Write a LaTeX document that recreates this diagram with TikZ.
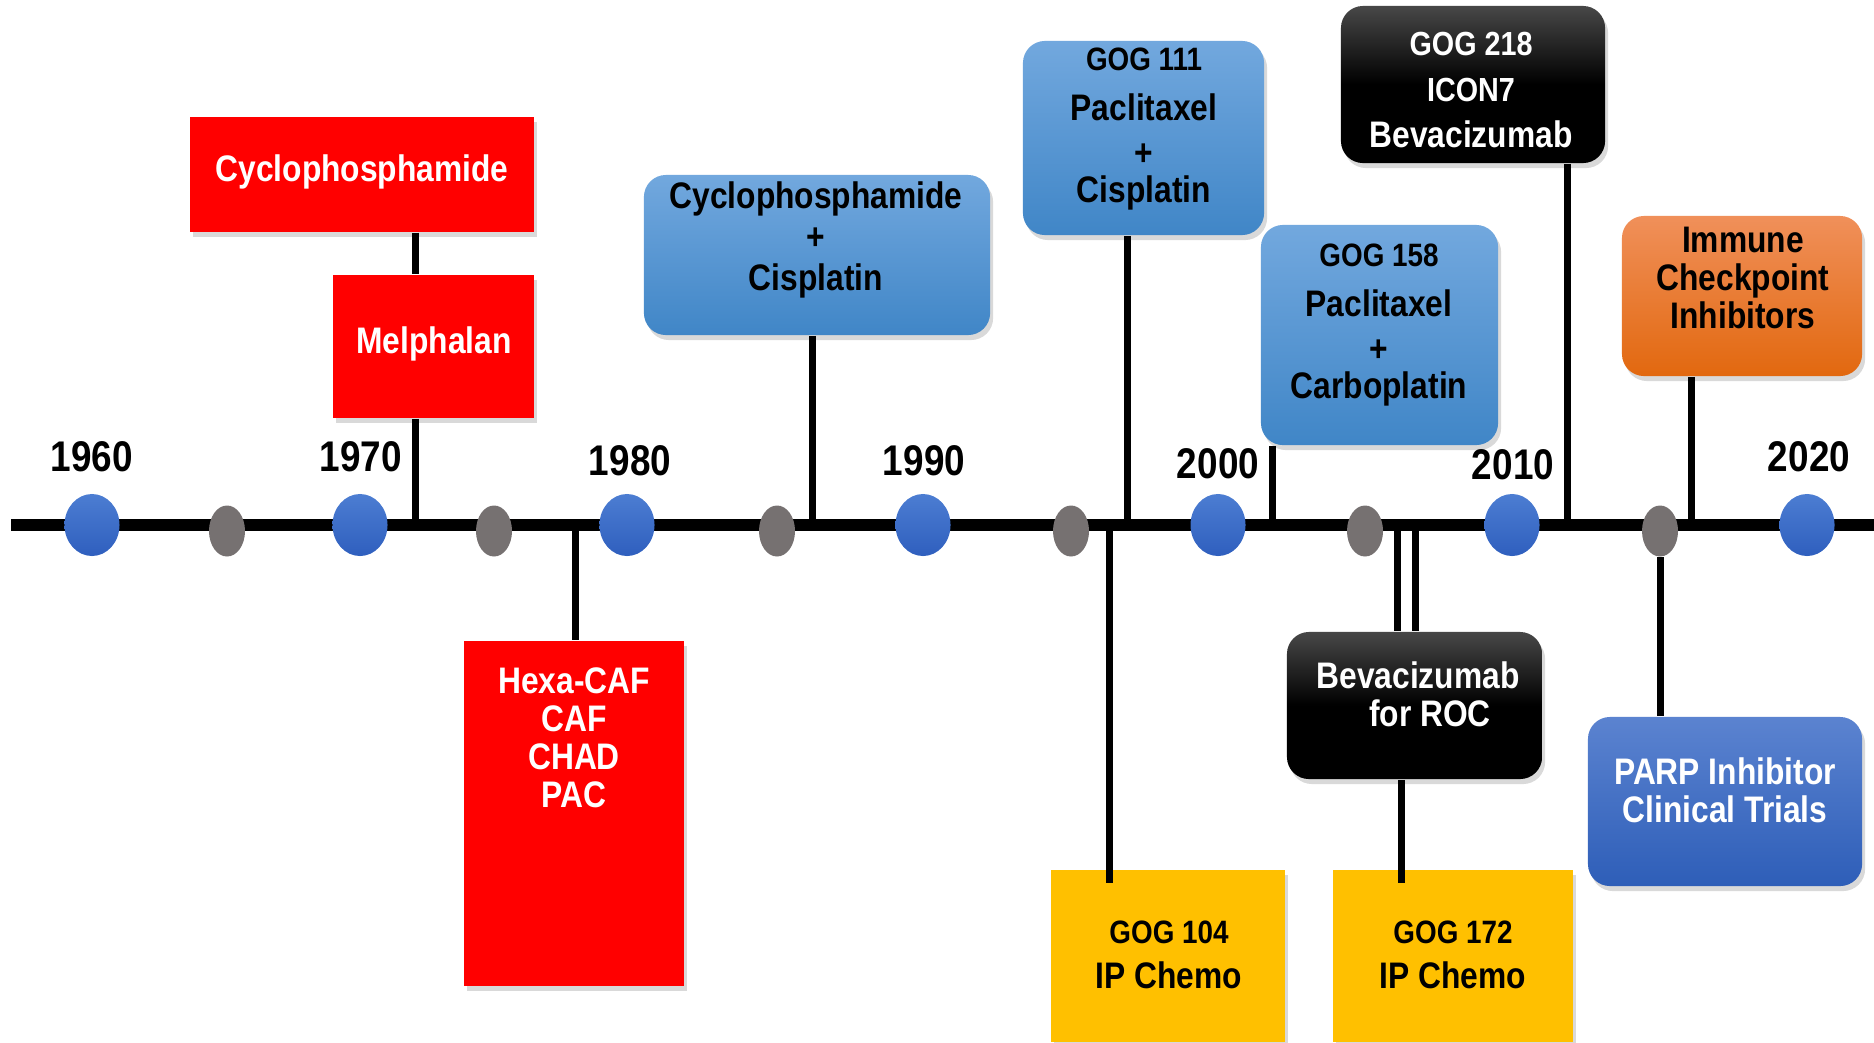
\documentclass[tikz,border=0pt]{standalone}
\usepackage{fontspec}
\setmainfont{Liberation Sans}[FakeStretch=0.86]
\usetikzlibrary{positioning,shapes.geometric,shadows}

\definecolor{tlred}{HTML}{FF0000}
\definecolor{skytop}{HTML}{72A8DE}
\definecolor{skybot}{HTML}{4086C7}
\definecolor{ortop}{HTML}{F0905A}
\definecolor{orbot}{HTML}{E2680F}
\definecolor{royaltop}{HTML}{5B83D0}
\definecolor{royalbot}{HTML}{2E5EB8}
\definecolor{gold}{HTML}{FFC000}
\definecolor{dottop}{HTML}{4C7DD2}
\definecolor{dotbot}{HTML}{2F5FBE}
\definecolor{dotgray}{HTML}{767171}

\tikzset{
  every node/.style={font=\bfseries, inner sep=0pt},
  box/.style={rectangle, drop shadow={shadow xshift=0.03cm, shadow yshift=-0.05cm, opacity=0.3}},
  redbox/.style={box, fill=tlred},
  skybox/.style={box, rounded corners=0.22cm, top color=skytop, bottom color=skybot},
  nightbox/.style={box, rounded corners=0.22cm, top color=black!72, bottom color=black, middle color=black},
  orangebox/.style={box, rounded corners=0.22cm, top color=ortop, bottom color=orbot},
  royalbox/.style={box, rounded corners=0.22cm, top color=royaltop, bottom color=royalbot},
  goldbox/.style={box, fill=gold},
  boxtext/.style={align=center, font=\fontsize{10.5}{10.8}\selectfont\bfseries},
  gogtext/.style={align=center, font=\fontsize{10.5}{13}\selectfont\bfseries},
  year/.style={font=\fontsize{12.2}{14}\selectfont\bfseries},
  bigdot/.style={ellipse, minimum width=0.55cm, minimum height=0.62cm, top color=dottop, bottom color=dotbot},
  smalldot/.style={ellipse, minimum width=0.36cm, minimum height=0.51cm, fill=dotgray},
  tline/.style={line width=0.12cm},
  conn/.style={line width=0.07cm}
}

\begin{document}
\begin{tikzpicture}[x=0.01cm, y=-0.01cm]
  \useasboundingbox (0,0) rectangle (1874,1042);

  % Timeline
  \coordinate (tl-start) at (11,525);
  \coordinate (tl-end) at (1874,525);
  \draw[tline] (tl-start) -- (tl-end);

  % Boxes
  \node (cyclo) [redbox, minimum width=3.44cm, minimum height=1.15cm] at (362,174.5) {};
  \node (melph) [redbox, minimum width=2.01cm, minimum height=1.43cm] at (433.5,346.5) {};
  \node (hexa) [redbox, minimum width=2.20cm, minimum height=3.45cm] at (574,813.5) {};
  \node (cyccis) [skybox, minimum width=3.46cm, minimum height=1.60cm] at (817,255) {};
  \node (gog111) [skybox, minimum width=2.41cm, minimum height=1.94cm] at (1143.5,138) {};
  \node (gog158) [skybox, minimum width=2.37cm, minimum height=2.20cm] at (1379.5,335) {};
  \node (gog218) [nightbox, minimum width=2.64cm, minimum height=1.57cm] at (1473,84.5) {};
  \node (immune) [orangebox, minimum width=2.40cm, minimum height=1.60cm] at (1742,296) {};
  \node (bevroc) [nightbox, minimum width=2.55cm, minimum height=1.47cm] at (1414.5,705.5) {};
  \node (gog104) [goldbox, minimum width=2.34cm, minimum height=1.72cm] at (1168,956) {};
  \node (gog172) [goldbox, minimum width=2.40cm, minimum height=1.72cm] at (1453,956) {};
  \node (parp) [royalbox, minimum width=2.74cm, minimum height=1.69cm] at (1725,801.5) {};

  % Where the connectors meet the timeline
  \coordinate (t-melph) at (415,525);
  \coordinate (t-hexa) at (575,525);
  \coordinate (t-cyccis) at (812,525);
  \coordinate (t-gog104) at (1109,525);
  \coordinate (t-gog111) at (1127,525);
  \coordinate (t-gog158) at (1272,525);
  \coordinate (t-bev1) at (1397,525);
  \coordinate (t-bev2) at (1415,525);
  \coordinate (t-gog172) at (1401,525);
  \coordinate (t-gog218) at (1567,525);
  \coordinate (t-immune) at (1691,525);

  % Connectors
  \draw[conn] (cyclo.south -| t-melph) -- (melph.north -| t-melph);
  \draw[conn] (melph.south -| t-melph) -- (t-melph);
  \draw[conn] (t-hexa) -- (hexa.north -| t-hexa);
  \draw[conn] (cyccis.south -| t-cyccis) -- (t-cyccis);
  \draw[conn] (t-gog104) -- ([yshift=-0.14cm]gog104.north -| t-gog104);
  \draw[conn] (gog111.south -| t-gog111) -- (t-gog111);
  \draw[conn] (gog158.south -| t-gog158) -- (t-gog158);
  \draw[conn] (t-bev1) -- (bevroc.north -| t-bev1);
  \draw[conn] (t-bev2) -- (bevroc.north -| t-bev2);
  \draw[conn] (bevroc.south -| t-gog172) -- ([yshift=-0.14cm]gog172.north -| t-gog172);
  \draw[conn] (gog218.south -| t-gog218) -- (t-gog218);
  \draw[conn] (immune.south -| t-immune) -- (t-immune);

  % Year dots
  \node (y1960) [bigdot] at (92,525) {};
  \node (h1965) [smalldot] at (227,531) {};
  \node (y1970) [bigdot] at (360,525) {};
  \node (h1975) [smalldot] at (494,531) {};
  \node (y1980) [bigdot] at (627,525) {};
  \node (h1985) [smalldot] at (777,531) {};
  \node (y1990) [bigdot] at (923,525) {};
  \node (h1995) [smalldot] at (1071,531) {};
  \node (y2000) [bigdot] at (1218,525) {};
  \node (h2005) [smalldot] at (1365,531) {};
  \node (y2010) [bigdot] at (1512,525) {};
  \node (h2015) [smalldot] at (1660,531) {};
  \node (y2020) [bigdot] at (1807,525) {};
  \draw[conn] (h2015.south) -- (parp.north -| h2015.south);

  % Year labels
  \node (l1960) [year] at (92,457) {1960};
  \node (l1970) [year] at (361,457) {1970};
  \node (l1980) [year] at (630,461) {1980};
  \node (l1990) [year] at (924,461) {1990};
  \node (l2000) [year] at (1218,464) {2000};
  \node (l2010) [year] at (1513,465) {2010};
  \node (l2020) [year] at (1809,457) {2020};

  % Box texts
  \node (cyclo-t) [boxtext, text=white] at (362,172) {Cyclophosphamide};
  \node (melph-t) [boxtext, text=white] at (434,344) {Melphalan};
  \node (hexa-t) [boxtext, text=white] at (574,738) {Hexa-CAF\\CAF\\CHAD\\PAC};
  \node (cyccis-t) [boxtext, font=\fontsize{10.5}{11.6}\selectfont\bfseries] at (816,240) {Cyclophosphamide\\+\\Cisplatin};
  \node (gog111-t) [gogtext] at (1144,129) {{\fontsize{9.2}{13}\selectfont GOG 111}\\[1.2pt]Paclitaxel\\+\\[-2.5pt]Cisplatin};
  \node (gog158-t) [gogtext] at (1379,325) {{\fontsize{9.2}{13}\selectfont GOG 158}\\[1.2pt]Paclitaxel\\+\\[-2.5pt]Carboplatin};
  \node (gog218-t) [gogtext, text=white] at (1471,90) {{\fontsize{9.5}{13}\selectfont GOG 218}\\{\fontsize{9.5}{13}\selectfont ICON7}\\Bevacizumab};
  \node (immune-t) [boxtext] at (1743,278) {Immune\\Checkpoint\\Inhibitors};
  \node (bevroc-t) [boxtext, text=white] at (1418,694) {Bevacizumab\\\hspace*{0.24cm}for ROC};
  \node (gog104-t) [gogtext] at (1169,955) {{\fontsize{9.2}{13}\selectfont GOG 104}\\IP Chemo};
  \node (gog172-t) [gogtext] at (1453,955) {{\fontsize{9.2}{13}\selectfont GOG 172}\\IP Chemo};
  \node (parp-t) [boxtext, text=white] at (1725,790) {PARP Inhibitor\\Clinical Trials};
\end{tikzpicture}
\end{document}
